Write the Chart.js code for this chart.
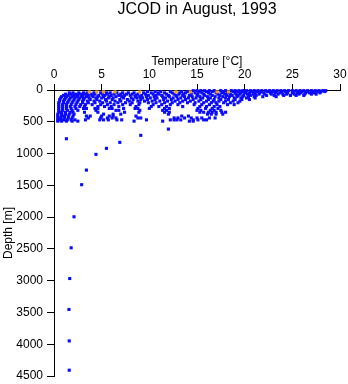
<!DOCTYPE html>
<html>
<head>
<meta charset="utf-8">
<script src="https://cdn.jsdelivr.net/npm/chart.js@4/dist/chart.umd.min.js"></script>
<style>
  html, body { margin: 0; padding: 0; background: #fff; }
  #wrap { width: 348px; height: 384px; }
</style>
</head>
<body>
<div id="wrap"><canvas id="chartJcod"></canvas></div>
<script>
// depth rows (m), with the temperatures (°C) seen at each
const rowDepths = [10, 25, 45, 65, 85, 105, 125, 150, 175, 200, 230, 260, 290, 320, 350, 380, 410, 440, 470, 490,
  615, 713, 767, 824, 918, 1013, 1260, 1490, 1995, 2483, 2966, 3453, 3948, 4409];
const rowTemps = [
  [14.6, 15.0, 15.4, 15.8, 16.3, 16.8, 17.5, 18.0, 18.6, 19.0, 19.4, 19.8, 20.2, 20.6, 21.0, 21.4, 21.8, 22.2, 22.6, 23.0, 23.4, 23.8, 24.2, 24.6, 25.0, 25.4, 25.8, 26.2, 26.6, 27.0, 27.4, 27.8, 28.2, 28.5],
  [9.8, 10.6, 11.2, 12.2, 13.4, 14.0, 15.2, 16.0, 16.6, 17.8, 18.8, 19.3, 19.7, 20.1, 20.8, 21.3, 21.7, 22.4, 22.9, 23.3, 23.9, 24.3, 25.1, 25.6, 26.0, 26.5, 27.1, 27.6, 28.0, 28.4],
  [1.6, 2.0, 2.6, 3.1, 3.5, 4.2, 4.9, 5.5, 5.9, 6.6, 7.2, 7.8, 8.4, 9.4, 10.2, 10.9, 11.6, 12.4, 13.2, 13.8, 14.8, 15.5, 16.2, 17.0, 17.6, 18.2, 19.0, 19.6, 20.0, 20.5, 21.1, 21.6, 22.0, 22.7, 23.2, 23.7, 24.5, 25.0, 25.5, 25.9, 26.4, 26.8, 27.3, 27.9],
  [1.2, 1.8, 2.3, 2.8, 3.3, 3.9, 4.3, 5.1, 5.6, 6.3, 7.0, 7.6, 8.2, 8.8, 9.6, 10.4, 11.0, 11.8, 12.6, 13.1, 13.6, 14.4, 15.1, 15.7, 16.4, 17.2, 17.9, 18.5, 19.1, 19.5, 20.3, 20.9, 21.5, 22.1, 22.8, 23.5, 24.0, 24.4, 25.2, 25.7, 26.3, 27.0, 27.5],
  [1.0, 1.5, 2.1, 2.5, 3.0, 3.6, 4.0, 4.7, 5.3, 6.0, 6.8, 7.4, 8.0, 8.6, 9.2, 9.9, 10.7, 11.3, 12.0, 12.8, 13.5, 14.2, 15.0, 15.8, 16.6, 17.4, 18.1, 18.7, 19.3, 19.9, 20.6, 21.2, 22.3, 23.1, 24.1, 24.8, 25.4, 26.2],
  [0.8, 1.3, 1.9, 2.4, 2.9, 3.4, 4.1, 4.6, 5.2, 5.8, 6.5, 7.1, 8.5, 9.0, 9.7, 10.5, 11.4, 12.1, 12.9, 13.7, 14.5, 15.3, 16.1, 16.9, 17.7, 18.4, 19.2, 19.8, 20.4, 21.0, 21.9, 23.3],
  [0.7, 1.2, 1.7, 2.2, 2.7, 3.2, 3.7, 4.4, 5.0, 5.7, 6.2, 7.3, 8.1, 8.7, 9.3, 10.1, 10.8, 11.7, 12.5, 13.3, 14.1, 14.9, 15.6, 16.4, 17.3, 18.0, 18.9, 19.6, 20.2, 21.1],
  [0.6, 1.1, 1.6, 2.1, 2.6, 3.1, 3.8, 4.5, 5.4, 6.1, 6.9, 7.7, 8.3, 9.1, 9.8, 10.6, 11.5, 12.3, 13.0, 13.8, 14.6, 15.4, 16.2, 16.8, 17.5, 18.3, 19.0, 19.7, 20.5],
  [0.6, 1.0, 1.5, 2.0, 2.5, 3.0, 3.5, 4.2, 4.8, 5.5, 6.4, 7.0, 7.9, 8.8, 9.5, 10.3, 11.1, 11.9, 12.7, 13.5, 14.3, 15.2, 16.0, 16.7, 17.3, 18.0, 18.8, 19.5],
  [0.5, 1.0, 1.4, 1.9, 2.4, 3.0, 3.6, 4.3, 5.1, 5.9, 6.7, 7.5, 8.2, 9.0, 9.9, 10.7, 11.6, 12.4, 13.2, 14.0, 14.8, 15.7, 16.5, 17.0, 17.8, 18.5, 19.3],
  [0.5, 0.9, 1.3, 1.8, 2.3, 2.8, 3.3, 4.0, 4.9, 5.6, 6.3, 7.2, 8.0, 8.9, 10.4, 11.3, 12.2, 13.0, 14.7, 15.5, 16.3, 17.1, 18.2, 18.9],
  [0.5, 0.9, 1.3, 1.7, 2.2, 2.7, 3.2, 4.6, 5.3, 6.0, 6.8, 8.6, 10.2, 11.0, 11.8, 13.5, 15.3, 16.0, 16.8, 17.4],
  [0.5, 0.9, 1.3, 1.8, 2.3, 3.1, 3.4, 4.3, 4.6, 5.8, 6.1, 7.3, 8.5, 8.8, 10.0, 11.6, 12.1, 15.1, 15.9, 16.6, 17.2],
  [0.5, 0.9, 1.4, 1.9, 2.5, 4.4, 6.5, 6.8, 9.0, 11.4, 11.8, 15.0, 15.4, 16.4, 16.8, 17.5],
  [0.5, 0.8, 1.2, 1.7, 2.0, 3.2, 4.6, 7.4, 8.9, 11.6, 12.1, 15.3, 15.7, 16.2, 16.6, 17.0, 17.6, 18.0],
  [0.4, 0.8, 1.2, 1.6, 2.1, 5.2, 6.2, 7.0, 12.0, 16.1, 16.5, 17.0, 17.7],
  [0.4, 0.8, 1.1, 1.5, 2.0, 3.4, 3.8, 5.0, 5.8, 6.2, 8.6, 13.4, 14.1],
  [0.4, 0.7, 1.1, 1.5, 1.9, 3.6, 4.9, 5.6, 6.1, 6.5, 8.8, 9.1, 12.6, 13.0, 13.7, 14.4, 15.0, 15.5, 16.3, 16.9],
  [0.4, 0.7, 1.0, 1.4, 1.8, 2.2, 3.3, 4.8, 5.2, 5.7, 6.6, 7.1, 9.7, 12.2, 12.6, 12.9, 13.3, 14.6, 15.1, 15.7, 16.0],
  [0.4, 0.8, 1.3, 1.9, 2.5, 8.4, 11.4, 14.2, 14.6],
  [12.0], [9.1], [1.3], [6.9], [5.5], [4.4], [3.4], [2.9], [2.1], [1.8], [1.65], [1.57], [1.6], [1.6]
];

// flagged (orange) observations near the surface
const flagTemps = [3.7, 4.5, 5.2, 6.4, 9.0, 12.8, 14.3, 17.1, 18.3];
const flagDepths = [30, 30, 30, 30, 30, 30, 30, 30, 30];

const xTicks = [0, 5, 10, 15, 20, 25, 30];
const yTicks = [0, 500, 1000, 1500, 2000, 2500, 3000, 3500, 4000, 4500];

const obs = [];
rowDepths.forEach((d, i) => {
  rowTemps[i].forEach(t => obs.push({ x: t, y: d }));
});
const flagged = flagTemps.map((t, i) => ({ x: t, y: flagDepths[i] }));

const ctx = document.getElementById('chartJcod');
const fam = '"Liberation Sans", Arial, Helvetica, sans-serif';

// pin the axis boxes so the plot area sits where the original has it
function noPad(s) {
  s.paddingTop = 0;
  s.paddingBottom = 0;
  s.paddingLeft = 0;
  s.paddingRight = 0;
}

new Chart(ctx, {
  type: 'scatter',
  data: {
    datasets: [{
      label: 'flagged',
      data: flagged,
      pointStyle: 'rect',
      pointRadius: 2.2,
      borderWidth: 0,
      backgroundColor: '#f0a020',
      clip: false
    }, {
      label: 'observations',
      data: obs,
      pointStyle: 'rect',
      pointRadius: 2.2,
      borderWidth: 0,
      backgroundColor: '#0a0aff',
      clip: false
    }]
  },
  options: {
    responsive: true,
    maintainAspectRatio: false,
    animation: false,
    layout: { padding: { left: 0, top: 0, right: 8, bottom: 8 } },
    plugins: {
      legend: { display: false },
      tooltip: { enabled: false },
      title: {
        display: true,
        text: 'JCOD in August, 1993',
        color: '#000',
        fullSize: false,
        font: { family: fam, size: 16, weight: 'normal' },
        padding: { top: 0, bottom: 33.6 }
      }
    },
    scales: {
      x: {
        type: 'linear',
        position: 'top',
        min: 0,
        max: 30,
        afterBuildTicks: s => { s.ticks = xTicks.map(v => ({ value: v })); },
        afterFit: s => { s.height = 37.2; noPad(s); },
        ticks: { color: '#000', padding: 2, font: { family: fam, size: 12 }, callback: v => String(v) },
        grid: { drawOnChartArea: false, tickLength: 6, color: '#000' },
        border: { color: '#000', width: 1 },
        title: {
          display: true,
          text: 'Temperature [°C]',
          color: '#000',
          font: { family: fam, size: 12 },
          padding: { top: 1.5, bottom: 0 }
        }
      },
      y: {
        type: 'linear',
        reverse: true,
        min: 0,
        max: 4500,
        afterBuildTicks: s => { s.ticks = yTicks.map(v => ({ value: v })); },
        afterFit: s => { s.width = 54; noPad(s); },
        ticks: { color: '#000', padding: 4, font: { family: fam, size: 12 }, callback: v => String(v) },
        grid: { drawOnChartArea: false, tickLength: 7, color: '#000' },
        border: { color: '#000', width: 1 },
        title: {
          display: true,
          text: 'Depth [m]',
          color: '#000',
          font: { family: fam, size: 12 },
          padding: { top: 1, bottom: 0 }
        }
      }
    }
  }
});
</script>
</body>
</html>
